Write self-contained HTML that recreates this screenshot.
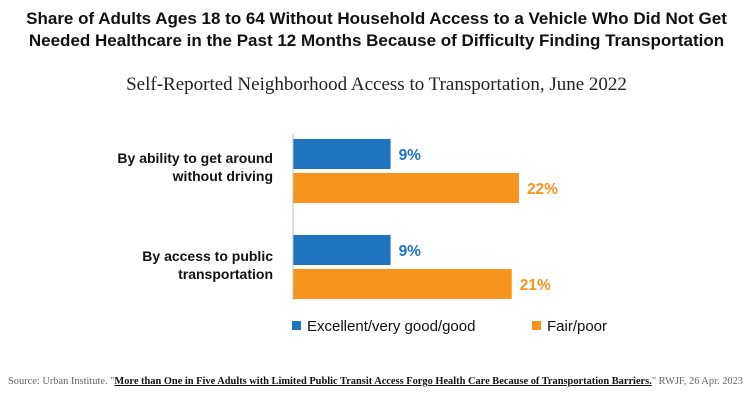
<!DOCTYPE html>
<html><head><meta charset="utf-8"><style>
body{margin:0;width:753px;height:401px;background:#fff;overflow:hidden;font-family:"Liberation Sans",sans-serif}
#title{position:absolute;left:0;top:8px;width:753px;text-align:center;font-weight:bold;font-size:17px;line-height:22px;color:#111}
#sub{position:absolute;left:0;top:74px;width:753px;text-align:center;font-family:"Liberation Serif",serif;font-size:19px;color:#222}
#src{position:absolute;left:8px;top:376px;font-family:"Liberation Serif",serif;font-size:10.4px;color:#666;white-space:nowrap}
#src u{color:#111;font-weight:bold}
</style></head><body>
<div id="title">Share of Adults Ages 18 to 64 Without Household Access to a Vehicle Who Did Not Get<br>Needed Healthcare in the Past 12 Months Because of Difficulty Finding Transportation</div>
<div id="sub">Self-Reported Neighborhood Access to Transportation, June 2022</div>
<svg id="chart" width="753" height="401" style="position:absolute;left:0;top:0"></svg>
<div id="src">Source: Urban Institute. "<u>More than One in Five Adults with Limited Public Transit Access Forgo Health Care Because of Transportation Barriers.</u>" RWJF, 26 Apr. 2023</div>
<script>
const categories=[["By ability to get around","without driving"],["By access to public","transportation"]];
const seriesNames=["Excellent/very good/good","Fair/poor"];
const goodValues=[9.5,9.5];
const fairValues=[22,21.3];
const goodLabels=["9%","9%"];
const fairLabels=["22%","21%"];
const colors=["#1f73c1","#f7941d"];
const NS="http://www.w3.org/2000/svg";
const svg=document.getElementById('chart');
const x0=293,pxPer=10.27;
const xs=v=>x0+v*pxPer;
const groupTop=i=>139+i*96;
const barH=30;
function mk(t,a){const e=document.createElementNS(NS,t);for(const k in a)e.setAttribute(k,a[k]);svg.appendChild(e);return e;}
const series=[goodValues,fairValues],labels=[goodLabels,fairLabels];
categories.forEach((c,i)=>{
  const gt=groupTop(i);
  const t=mk('text',{x:273,y:gt+24+i*2,'text-anchor':'end','font-size':14,'font-weight':'bold',fill:'#111'});
  
  
  c.forEach((ln,j)=>{const s=document.createElementNS(NS,'tspan');s.setAttribute('x',273);s.setAttribute('dy',j?18:0);s.textContent=ln;t.appendChild(s);});
  series.forEach((vals,s)=>{
    const y=gt+s*34;
    const r=mk('rect',{x:x0,y:y,width:xs(vals[i])-x0,height:barH,fill:colors[s]});
    
    
    const l=mk('text',{x:xs(vals[i])+8,y:y+21,'font-size':15.5,'font-weight':'bold',fill:colors[s]});
    
    
    l.textContent=labels[s][i];
  });
});
const ax=mk('line',{x1:x0,x2:x0,y1:133,y2:300,stroke:'#bbb','stroke-width':1});


const legX=[292,532];
seriesNames.forEach((n,s)=>{
  const r=mk('rect',{x:legX[s],y:321,width:9,height:9,fill:colors[s]});
  
  
  const t=mk('text',{x:legX[s]+15,y:331,'font-size':15,fill:'#111'});
  
  
  t.textContent=n;
});
</script>
</body></html>
